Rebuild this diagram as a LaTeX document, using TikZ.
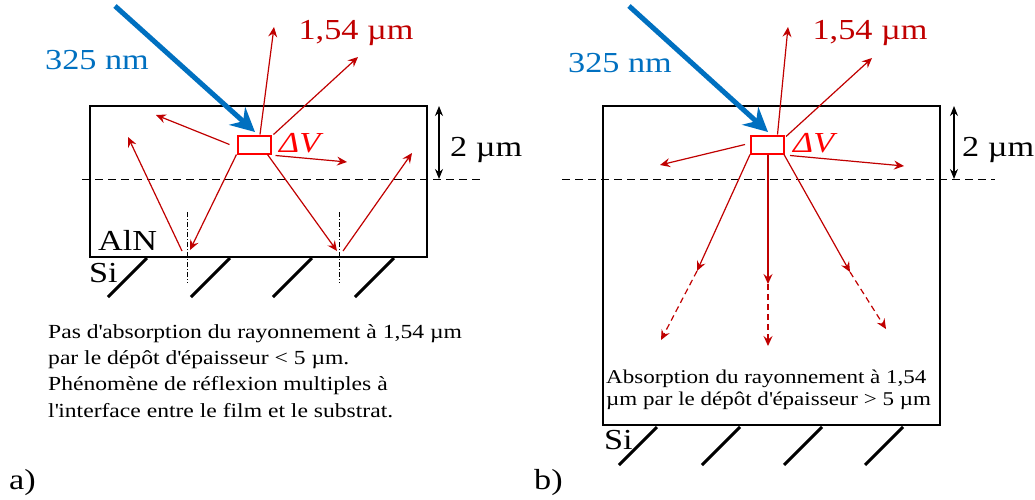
\documentclass[tikz,border=0pt]{standalone}
\usepackage{fontspec}
\setmainfont{Liberation Serif}[FakeStretch=1.18]
\usetikzlibrary{arrows.meta}
\definecolor{dred}{HTML}{C00000}
\definecolor{bred}{HTML}{FF0000}
\definecolor{bblue}{HTML}{0070C0}
\newcommand{\aq}{\textquotesingle}
\begin{document}
\begin{tikzpicture}[x=1pt,y=-1pt,
  ray/.style={dred, line width=1.2pt, -{Stealth[length=10pt,width=9pt,inset=3.5pt]}},
  dray/.style={ray, dash pattern=on 6pt off 4pt},
  beam/.style={bblue, line width=5pt, -{Stealth[length=24pt,width=24pt,inset=8pt]}},
  dvbox/.style={draw=bred, line width=2pt, minimum width=33pt, minimum height=18pt, inner sep=0pt},
  hatch/.style={line width=3pt},
  level/.style={line width=1pt, dash pattern=on 8pt off 5pt},
  normal/.style={line width=0.8pt, dash pattern=on 5pt off 2pt on 1pt off 2pt},
  dim/.style={line width=1.2pt, {Stealth[length=10pt,width=8pt]}-{Stealth[length=10pt,width=8pt]}},
  big/.style={font=\fontsize{29}{32}\selectfont, inner sep=0pt},
  para/.style={font=\fontsize{20}{26.3}\selectfont, align=left, inner sep=0pt}
]
\useasboundingbox (0,0) rectangle (1035,499);
% ---------------- panel a ----------------
\draw[line width=1.8pt] (90,106) rectangle (427,257);
\node[dvbox] (dva) at (254,144.5) {};
\node[big, bred, anchor=west] (dvla) at (279,143) {\itshape ΔV};
\draw[level] (82,179) -- (480,179);
\coordinate (ta1) at (439,106); \coordinate (ta2) at (439,179);
\draw[dim] (ta1) -- (ta2);
\node[big, anchor=west] (dima) at (450,150) {2 µm};
\node[big, bblue] (nma) at (97,60) {325 nm};
\node[big, dred] (uma) at (356,33) {1,54 µm};
\coordinate (sa) at (115,6); \coordinate (ea) at (255,132);
\draw[beam] (sa) -- (ea);
% rays
\coordinate (a1) at (274,27);
\coordinate (a2) at (358,57);
\coordinate (a3) at (156,115);
\coordinate (a4) at (347,162);
\coordinate (b1) at (190,250);
\coordinate (b2) at (337,251);
\coordinate (r1) at (182,251);
\coordinate (r1e) at (128,137);
\coordinate (r2) at (343,251);
\coordinate (r2e) at (412,153);
\draw[ray] ([xshift=6pt]dva.north) -- (a1);
\draw[ray] ([xshift=2pt]dva.north east) -- (a2);
\draw[ray] ([xshift=-7pt]dva.west) -- (a3);
\draw[ray] ([xshift=4pt,yshift=-1pt]dva.south east) -- (a4);
\draw[ray] (dva.south west) -- (b1);
\draw[ray] ([xshift=-4pt]dva.south east) -- (b2);
\draw[ray] (r1) -- (r1e);
\draw[ray] (r2) -- (r2e);
\coordinate (na1) at (187,212); \coordinate (na2) at (187,283);
\coordinate (nb1) at (339,212); \coordinate (nb2) at (339,283);
\draw[normal] (na1) -- (na2);
\draw[normal] (nb1) -- (nb2);
\node[big, anchor=west] (aln) at (98,240) {AlN};
\node[big, anchor=west] (sia) at (89,273) {Si};
\foreach \x in {147,230,312,394} \draw[hatch] (\x,258) -- (\x-39,297);
\node[para, anchor=north west] (txa) at (48,324) {Pas d\aq absorption du rayonnement à 1,54 µm\\par le dépôt d\aq épaisseur < 5 µm.\\Phénomène de réflexion multiples à\\l\aq interface entre le film et le substrat.};
\node[big, anchor=west] (la) at (9,483) {a)};
% ---------------- panel b ----------------
\draw[line width=1.8pt] (603,106) rectangle (940,425);
\node[dvbox] (dvb) at (767.5,144.5) {};
\node[big, bred, anchor=west] (dvlb) at (793,143) {\itshape ΔV};
\draw[level] (562,179) -- (995,179);
\coordinate (tb1) at (954,106); \coordinate (tb2) at (954,179);
\draw[dim] (tb1) -- (tb2);
\node[big, anchor=west] (dimb) at (962,150) {2 µm};
\node[big, bblue] (nmb) at (620,63) {325 nm};
\node[big, dred] (umb) at (870,33) {1,54 µm};
\coordinate (sb) at (629,6); \coordinate (eb) at (768,132);
\draw[beam] (sb) -- (eb);
\coordinate (c1) at (788,27);
\coordinate (c2) at (872,58);
\coordinate (c3) at (660,165);
\coordinate (c4) at (904,166);
\coordinate (d1) at (697,271); \coordinate (d1e) at (661,340);
\coordinate (d2) at (768,284); \coordinate (d2e) at (768,346);
\coordinate (d3) at (850,272); \coordinate (d3e) at (886,329);
\draw[ray] ([xshift=10pt]dvb.north) -- (c1);
\draw[ray] ([xshift=1pt,yshift=-2pt]dvb.north east) -- (c2);
\draw[ray] ([xshift=-5pt]dvb.west) -- (c3);
\draw[ray] ([xshift=5pt,yshift=-1pt]dvb.south east) -- (c4);
\draw[ray] (dvb.south west) -- (d1);
\draw[ray] ([xshift=0.5pt]dvb.south) -- (d2);
\draw[ray] ([xshift=-1pt]dvb.south east) -- (d3);
\draw[dray] (d1) -- (d1e);
\draw[dray] (d2) -- (d2e);
\draw[dray] (d3) -- (d3e);
\node[para, font=\fontsize{19.5}{22}\selectfont, anchor=north west] (txb) at (606,370) {Absorption du rayonnement à 1,54\\µm par le dépôt d\aq épaisseur > 5 µm};
\node[big, anchor=west] (sib) at (604,440) {Si};
\foreach \x in {657,740,822,903} \draw[hatch] (\x,427) -- (\x-38,465);
\node[big, anchor=west] (lb) at (534,483) {b)};
\end{tikzpicture}
\end{document}
